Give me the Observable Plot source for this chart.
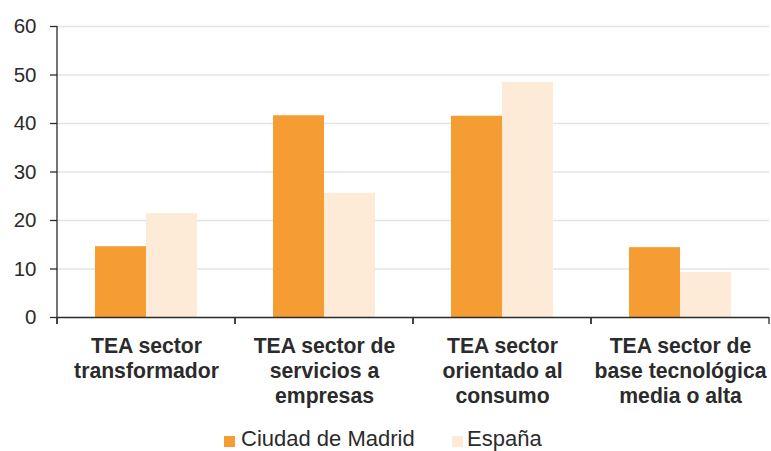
<!DOCTYPE html>
<html>
<head>
<meta charset="utf-8">
<script src="https://cdn.jsdelivr.net/npm/d3@7"></script>
<script src="https://cdn.jsdelivr.net/npm/@observablehq/plot@0.6"></script>
<style>
  html, body { margin: 0; padding: 0; background: #fff; }
  body { position: relative; width: 771px; height: 451px; overflow: hidden; font-family: "Liberation Sans", Arial, sans-serif; }
  #chart { position: absolute; left: 0; top: 0; }
  .legend { position: absolute; top: 428px; left: 0; width: 771px; height: 22px; font-size: 22px; line-height: 22px; color: #2b2b2b; }
  .legend .sw { position: absolute; width: 11px; height: 11px; top: 8px; }
  .legend .lb { position: absolute; top: 0; white-space: nowrap; }
</style>
</head>
<body>
<div id="chart"></div>
<div class="legend" id="legend"></div>
<script>
const categories = ["transformador", "servicios", "consumo", "tecnologica"];
const categoryLabels = [
  "TEA sector\ntransformador",
  "TEA sector de\nservicios a\nempresas",
  "TEA sector\norientado al\nconsumo",
  "TEA sector de\nbase tecnológica\nmedia o alta"
];
const series = ["Ciudad de Madrid", "España"];
const madrid = [14.6, 41.6, 41.5, 14.4];
const espana = [21.4, 25.6, 48.5, 9.3];
const yTicks = [0, 10, 20, 30, 40, 50, 60];
const colors = ["#f59d32", "#fdebd8"];

const data = [];
categories.forEach((c, i) => {
  data.push({cat: c, serie: series[0], value: madrid[i]});
  data.push({cat: c, serie: series[1], value: espana[i]});
});
const labelOf = new Map(categories.map((c, i) => [c, categoryLabels[i]]));

let facetCount = 0;
function boundaryTicks(index, scales, values, dims) {
  const g = d3.create("svg:g").attr("stroke", "#2b2b2b").attr("stroke-width", 1.3);
  const left = dims.marginLeft, right = dims.width - dims.marginRight;
  const y0 = scales.y(0);
  for (const px of [left, right]) {
    g.append("line").attr("x1", px).attr("x2", px).attr("y1", y0).attr("y2", y0 + 7);
  }
  if (facetCount++ === 0) {
    g.append("line").attr("x1", left).attr("x2", left).attr("y1", scales.y(60)).attr("y2", y0 + 7);
  }
  return g.node();
}

const chart = Plot.plot({
  width: 771,
  height: 425,
  marginTop: 26,
  marginBottom: 108,
  marginLeft: 57,
  marginRight: 2,
  style: {fontFamily: "Liberation Sans, Arial, sans-serif", color: "#2b2b2b", background: "#fff"},
  fx: {domain: categories, padding: 0, label: null},
  x: {domain: series, paddingInner: 0, paddingOuter: 0.745, axis: null},
  y: {domain: [0, 60], label: null},
  color: {domain: series, range: colors},
  marks: [
    Plot.gridY(yTicks.filter(d => d > 0), {stroke: "#e4e4e4", strokeOpacity: 1, strokeWidth: 1.3}),
    Plot.barY(data, {fx: "cat", x: "serie", y: "value", fill: "serie", inset: 0}),
    Plot.ruleY([0], {stroke: "#2b2b2b", strokeWidth: 1.3}),
    boundaryTicks,
    Plot.axisY({ticks: yTicks, tickSize: 7, tickPadding: 14, fontSize: 20.5, label: null, stroke: "#2b2b2b", strokeWidth: 1.3, fill: "#2b2b2b"}),
    Plot.axisFx({anchor: "bottom", tickSize: 0, tickPadding: 17, fontSize: 21.2, fontWeight: "bold", lineHeight: 1.2, label: null, fill: "#2b2b2b", tickFormat: d => labelOf.get(d)})
  ]
});
document.getElementById("chart").appendChild(chart);

const legend = document.getElementById("legend");
const legendPos = [[224, 241], [452, 467]];
series.forEach((s, i) => {
  const sw = document.createElement("div");
  sw.className = "sw";
  sw.style.left = legendPos[i][0] + "px";
  sw.style.background = colors[i];
  legend.appendChild(sw);
  const lb = document.createElement("div");
  lb.className = "lb";
  lb.style.left = legendPos[i][1] + "px";
  lb.textContent = s;
  legend.appendChild(lb);
});
</script>
</body>
</html>
